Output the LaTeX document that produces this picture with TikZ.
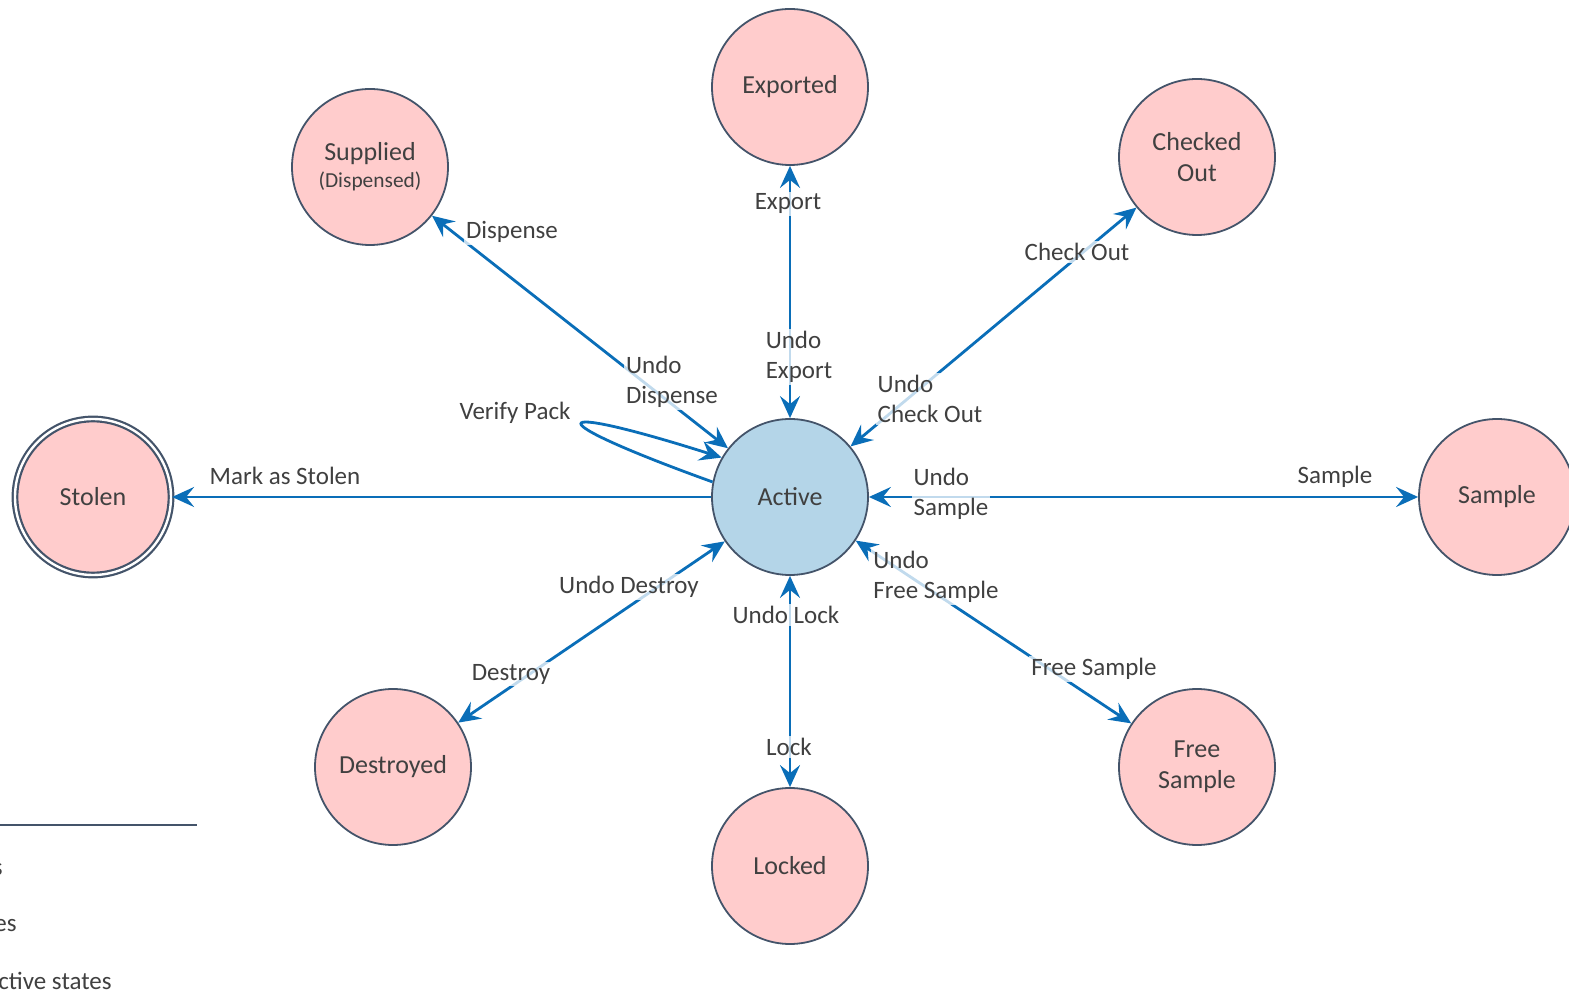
\documentclass[tikz,border=0pt]{standalone}
\usepackage{fontspec}
\setmainfont{Carlito}
\usetikzlibrary{arrows.meta}

\definecolor{statefill}{HTML}{FFCCCC}
\definecolor{activefill}{HTML}{B4D5E8}
\definecolor{stateline}{HTML}{44546A}
\definecolor{arrowblue}{HTML}{0A6EB8}
\definecolor{textgray}{HTML}{404040}

\tikzset{
  state/.style={circle, draw=stateline, line width=0.9pt, fill=statefill,
    minimum size=78pt, inner sep=0pt, align=center, text=textgray,
    font=\fontsize{13}{15.5}\selectfont},
  trans/.style={draw=arrowblue, line width=1.4pt,
    >={Stealth[length=11pt,width=10pt,inset=4pt]}},
  lbl/.style={fill=white, fill opacity=0.75, text opacity=1, text=textgray,
    inner sep=1pt, align=left, font=\fontsize{12.5}{15}\selectfont},
}

\begin{document}
\begin{tikzpicture}[x=0.5pt, y=-0.5pt]
\useasboundingbox (0,0) rectangle (1569,1004);

% states
\node [state, fill=activefill] (act) at (790,497) {Active};
\node [state] (exp) at (790,87) {Exported};
\node [state] (sup) at (370,167) {Supplied\\[-2pt]{\fontsize{10.7}{13}\selectfont (Dispensed)}};
\node [state] (chk) at (1197,157) {Checked\\Out};
\node [state, line width=1.1pt, double=white, double distance=1.2pt] (stl) at (93,497) {Stolen};
\node [state] (smp) at (1497,497) {Sample};
\node [state] (dst) at (393,767) {Destroyed};
\node [state] (lck) at (790,866) {Locked};
\node [state] (fre) at (1197,767) {Free\\Sample};

% transitions
\draw [trans, <->] (act) -- (sup);
\draw [trans, <->] (act) -- (exp);
\draw [trans, <->] (act) -- (chk);
\draw [trans, <->] (act) -- (smp);
\draw [trans, <->] (act) -- (fre);
\draw [trans, <->] (act) -- (lck);
\draw [trans, <->] (act) -- (dst);
\draw [trans, ->] (act) -- (stl);
\draw [trans, ->] (act.169) .. controls (535,418) and (540,400) .. (act.150);

% labels
\node [lbl] (lDispense) at (512,232) {Dispense};
\node [lbl] (lUndoDispense) at (672,382) {Undo\\Dispense};
\node [lbl] (lExport) at (788,204) {Export};
\node [lbl] (lUndoExport) at (799,357) {Undo\\Export};
\node [lbl] (lCheckOut) at (1077,252) {Check Out};
\node [lbl] (lUndoCheckOut) at (930,399) {Undo\\Check Out};
\node [lbl] (lVerify) at (515,413) {Verify Pack};
\node [lbl] (lStolen) at (285,476) {Mark as Stolen};
\node [lbl] (lSample) at (1335,477) {Sample};
\node [lbl] (lUndoSample) at (951,494) {Undo\\Sample};
\node [lbl] (lUndoFree) at (936,577) {Undo\\Free Sample};
\node [lbl] (lFree) at (1094,669) {Free Sample};
\node [lbl] (lUndoLock) at (786,615) {Undo Lock};
\node [lbl] (lLock) at (789,747) {Lock};
\node [lbl] (lUndoDestroy) at (629,587) {Undo Destroy};
\node [lbl] (lDestroy) at (511,674) {Destroy};

% legend
\draw [stateline, line width=1pt] (0,825) -- (197,825);
\node [lbl, anchor=east, inner sep=0pt] (legA) at (3,870) {s};
\node [lbl, anchor=east, inner sep=0pt] (legB) at (17,926) {es};
\node [lbl, anchor=east, inner sep=0pt] (legC) at (112,981) {ctive states};
\end{tikzpicture}
\end{document}
